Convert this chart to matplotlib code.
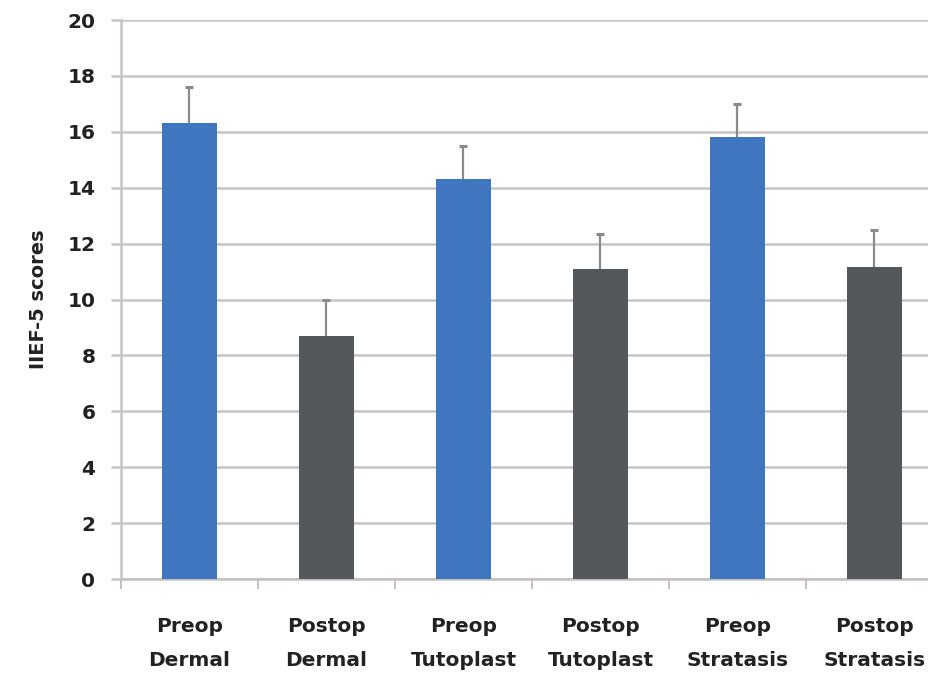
import matplotlib.pyplot as plt
import numpy as np

# Datos del grafico
categorias = ["Preop\nDermal", "Postop\nDermal", "Preop\nTutoplast",
              "Postop\nTutoplast", "Preop\nStratasis", "Postop\nStratasis"]
medias = [16.3, 8.7, 14.3, 11.1, 15.8, 11.15]
errores = [1.3, 1.3, 1.2, 1.25, 1.2, 1.35]
colores = ["#3f76bf", "#55585b", "#3f76bf", "#55585b", "#3f76bf", "#55585b"]

fig = plt.figure(figsize=(9.29, 6.78), dpi=100)
ax = fig.add_axes([0.1302, 0.146, 0.8848, 0.8245])

x = np.arange(len(categorias))
ax.bar(x, medias, width=0.40, color=colores, zorder=3)

eb = ax.errorbar(x, medias, yerr=[np.zeros(len(errores)), errores], fmt="none",
                 ecolor="#8a8a8a", elinewidth=1.6, capsize=3, capthick=2.2, zorder=4)
eb[1][0].set_visible(False)
eb[1][1].set_color("#555555")

ax.set_xlim(-0.5, len(categorias) - 0.5)
ax.set_ylim(0, 20)
ax.set_yticks(range(0, 21, 2))
ax.set_xticks(x)
ax.set_xticklabels(categorias, fontsize=14.5, fontweight="bold", color="#222222",
                   linespacing=2.0)
ax.set_xticks(np.arange(-0.5, len(categorias), 1), minor=True)

ax.grid(axis="y", color="#c8c4c4", linewidth=1.8, zorder=0)
ax.tick_params(axis="x", which="major", length=0, pad=27)
ax.tick_params(axis="x", which="minor", length=7.5, width=1.4, color="#c4c0c0")
ax.tick_params(axis="y", length=7.5, width=1.8, color="#c8c4c4", pad=11,
               labelsize=14.5, labelcolor="#222222")
for lab in ax.get_yticklabels():
    lab.set_fontweight("bold")

for lado in ["top", "right"]:
    ax.spines[lado].set_visible(False)
ax.spines["left"].set_color("#c8c4c4")
ax.spines["left"].set_linewidth(1.8)
ax.spines["bottom"].set_color("#c4c0c0")
ax.spines["bottom"].set_linewidth(1.8)

ax.set_ylabel("IIEF-5 scores", fontsize=14, fontweight="bold", color="#222222",
              labelpad=14)

fig.savefig("out.png", dpi=100)
